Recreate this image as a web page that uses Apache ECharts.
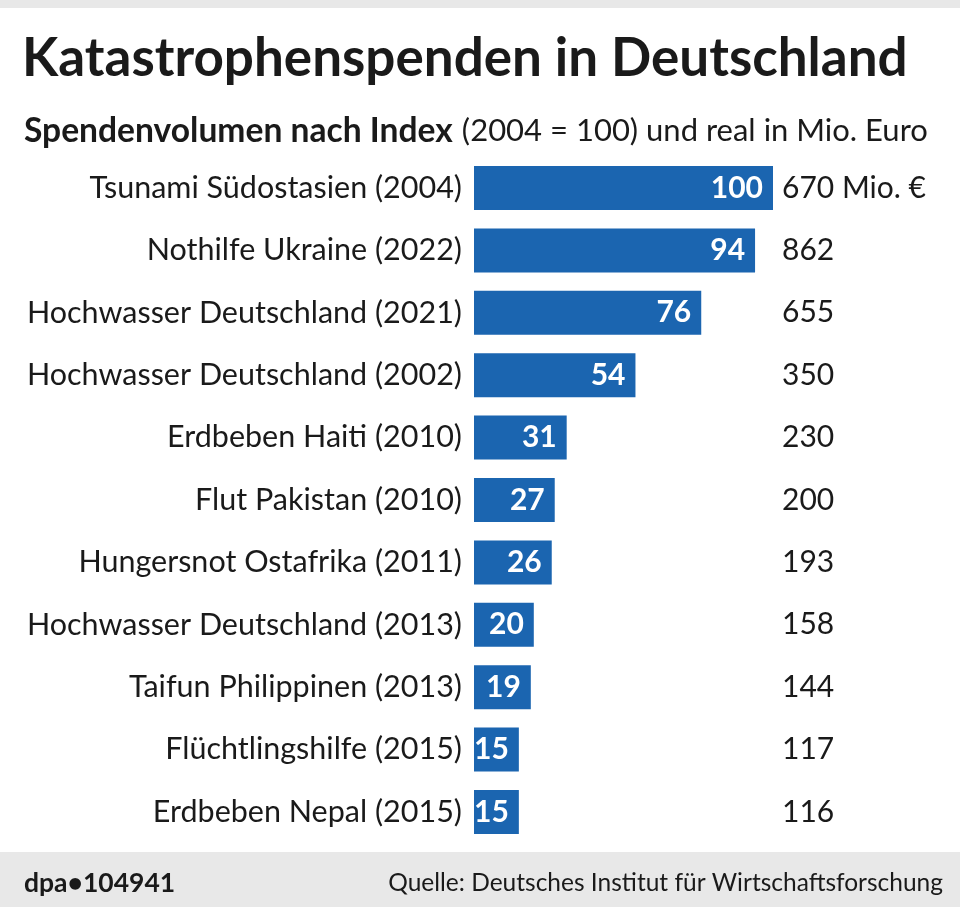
<!DOCTYPE html>
<html><head><meta charset="utf-8">
<script src="https://cdn.jsdelivr.net/npm/echarts@6/dist/echarts.min.js"></script>
<style>html,body{margin:0;padding:0;background:#fff}#c{width:960px;height:907px}</style>
</head><body><div id="c"></div>
<script>
const categories = [
  "Tsunami Südostasien (2004)",
  "Nothilfe Ukraine (2022)",
  "Hochwasser Deutschland (2021)",
  "Hochwasser Deutschland (2002)",
  "Erdbeben Haiti (2010)",
  "Flut Pakistan (2010)",
  "Hungersnot Ostafrika (2011)",
  "Hochwasser Deutschland (2013)",
  "Taifun Philippinen (2013)",
  "Flüchtlingshilfe (2015)",
  "Erdbeben Nepal (2015)"
];
const indexValues = [100, 94, 76, 54, 31, 27, 26, 20, 19, 15, 15];
const realValues = [670, 862, 655, 350, 230, 200, 193, 158, 144, 117, 116];

const FONT = 'Lato';
const chart = echarts.init(document.getElementById('c'), null, {renderer: 'canvas'});
chart.setOption({
  animation: false,
  backgroundColor: '#ffffff',
  title: [
    {text: 'Katastrophenspenden in Deutschland', left: 17, top: 27,
     textStyle: {fontFamily: FONT, fontWeight: 'bold', fontSize: 53, color: '#1a1a1a'}},
    {text: '{b|Spendenvolumen nach Index}{s| }{n|(2004 = 100) und real in Mio. Euro}', left: 19, top: 108,
     textStyle: {fontWeight: 'normal', rich: {
       b: {fontFamily: FONT, fontWeight: 'bold', fontSize: 33.6, color: '#1a1a1a'},
       s: {fontFamily: FONT, fontWeight: 'normal', fontSize: 36, color: '#1a1a1a'},
       n: {fontFamily: FONT, fontWeight: 'normal', fontSize: 31, color: '#1a1a1a'}
     }}},
    {text: 'dpa•104941', left: 19, top: 865,
     textStyle: {fontFamily: FONT, fontWeight: 'bold', fontSize: 26.5, color: '#1a1a1a'}},
    {text: 'Quelle: Deutsches Institut für Wirtschaftsforschung', right: 12, top: 866,
     textStyle: {fontFamily: FONT, fontWeight: 'normal', fontSize: 24.5, color: '#1a1a1a'}}
  ],
  graphic: [
    {type: 'rect', shape: {x: 0, y: 0, width: 960, height: 8}, style: {fill: '#e8e8e8'}, z: -1},
    {type: 'rect', shape: {x: 0, y: 852, width: 960, height: 55}, style: {fill: '#e8e8e8'}, z: -1}
  ],
  grid: {left: 474, right: 187, top: 156.8, bottom: 63.8, containLabel: false},
  xAxis: {type: 'value', min: 0, max: 100, show: false},
  yAxis: [
    {type: 'category', data: categories, inverse: true,
     axisLine: {show: false}, axisTick: {show: false},
     axisLabel: {fontFamily: FONT, fontSize: 30.5, color: '#1a1a1a', margin: 12}},
    {type: 'category', data: realValues, inverse: true, position: 'right',
     axisLine: {show: false}, axisTick: {show: false},
     axisLabel: {fontFamily: FONT, fontSize: 30, color: '#1a1a1a', margin: 9,
       formatter: (v, i) => i === 0 ? v + ' Mio. €' : v}}
  ],
  series: [{
    type: 'bar', data: indexValues, barWidth: 44,
    itemStyle: {color: '#1b65b0'},
    label: {show: true, position: 'insideRight', distance: 10,
      fontFamily: FONT, fontWeight: 'bold', fontSize: 30, color: '#ffffff'}
  }]
});
</script></body></html>
